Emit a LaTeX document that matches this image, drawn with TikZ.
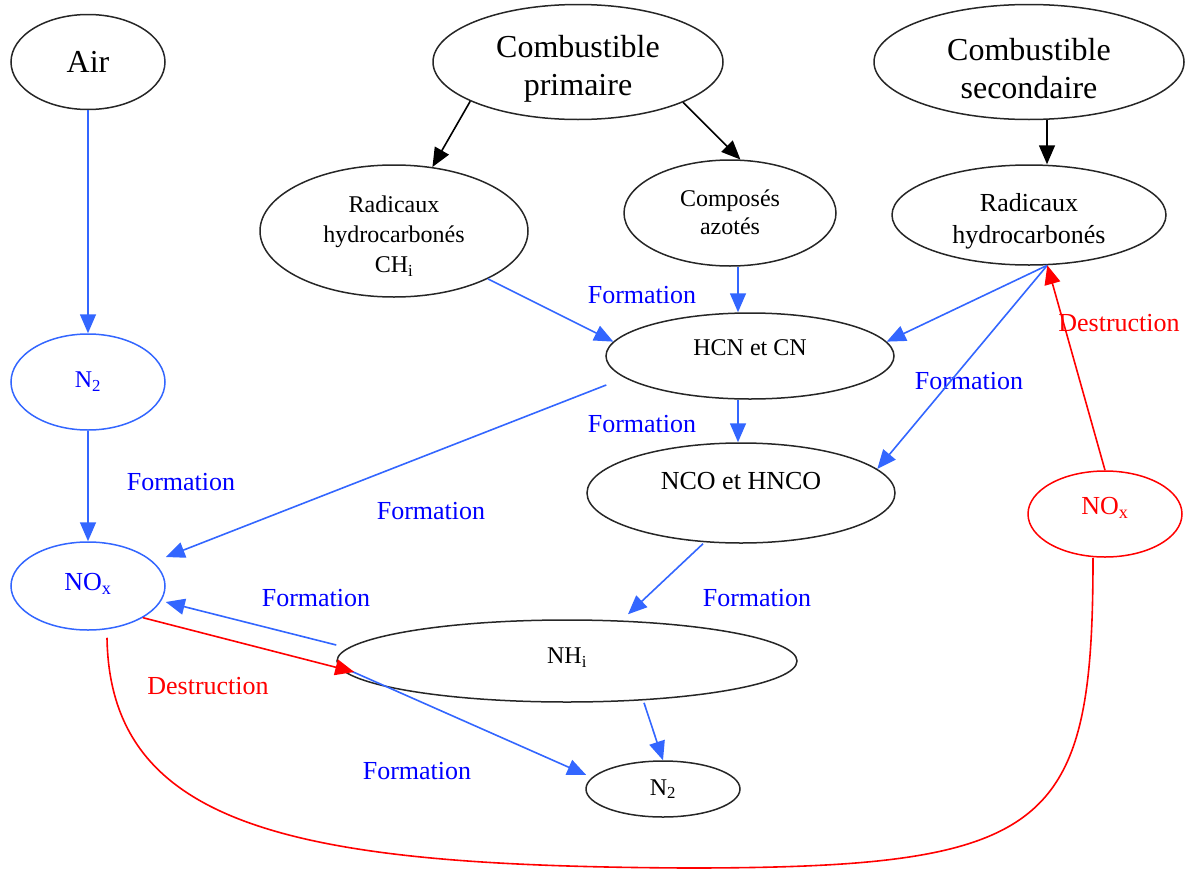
\documentclass[tikz,border=0pt]{standalone}
\usepackage{fontspec}
\setmainfont{Liberation Serif}
\usetikzlibrary{arrows.meta,shapes.geometric,calc}
\definecolor{lblue}{RGB}{51,102,255}
\definecolor{tblue}{RGB}{0,0,255}
\definecolor{myred}{RGB}{255,0,0}
\begin{document}
\begin{tikzpicture}[x=1pt,y=-1pt,
 ell/.style={draw=black!85, line width=1.5pt, ellipse, inner sep=0pt},
 bell/.style={ell, draw=lblue},
 rell/.style={ell, draw=myred},
 txt/.style={inner sep=0pt, align=center, font=\fontsize{24}{28}\selectfont},
 bigtxt/.style={txt, font=\fontsize{32}{38}\selectfont},
 midtxt/.style={txt, font=\fontsize{26}{32}\selectfont},
 lab/.style={inner sep=0pt, font=\fontsize{26}{30}\selectfont, text=tblue},
 dlab/.style={lab, text=myred},
 arr/.style={line width=1.6pt, -{Triangle[length=19pt,width=16pt]}},
 barr/.style={arr, draw=lblue},
 rarr/.style={arr, draw=myred},
]
\useasboundingbox (0,0) rectangle (1191,870);

% ellipses
\node[ell, minimum width=154pt, minimum height=95pt] (air) at (88,62) {};
\node[ell, minimum width=290pt, minimum height=115pt] (cp) at (578,62) {};
\node[ell, minimum width=310pt, minimum height=115pt] (cs) at (1029,62) {};
\node[ell, minimum width=268pt, minimum height=132pt] (radl) at (394,231) {};
\node[ell, minimum width=212pt, minimum height=106pt] (comp) at (730,213) {};
\node[ell, minimum width=274pt, minimum height=100pt] (radr) at (1029,215) {};
\node[bell, minimum width=154pt, minimum height=96pt] (n2l) at (88,382) {};
\node[ell, minimum width=288pt, minimum height=86pt] (hcn) at (750,356) {};
\node[ell, minimum width=308pt, minimum height=100pt] (nco) at (741,493) {};
\node[bell, minimum width=154pt, minimum height=88pt] (noxl) at (88,586) {};
\node[rell, minimum width=154pt, minimum height=86pt] (noxr) at (1105,514) {};
\node[ell, minimum width=460pt, minimum height=82pt] (nhi) at (567,661) {};
\node[ell, minimum width=154pt, minimum height=56pt] (n2b) at (663,789) {};

% texts
\node[bigtxt] (airt) at (88,62) {Air};
\node[bigtxt] (cpt) at (578,69) {Combustible\\primaire};
\node[bigtxt] (cst) at (1029,69) {Combustible\\secondaire};
\node[txt, font=\fontsize{24}{30}\selectfont] (radlt) at (394,236) {Radicaux\\hydrocarbonés\\CH\textsubscript{i}};
\node[txt] (compt) at (730,212) {Composés\\azotés};
\node[midtxt] (radrt) at (1029,221) {Radicaux\\hydrocarbonés};
\node[txt, text=tblue] (n2lt) at (88,382) {N\textsubscript{2}};
\node[txt] (hcnt) at (750,348) {HCN et CN};
\node[midtxt] (ncot) at (741,481) {NCO et HNCO};
\node[midtxt, text=tblue] (noxlt) at (88,584) {NO\textsubscript{x}};
\node[midtxt, text=myred] (noxrt) at (1105,508) {NO\textsubscript{x}};
\node[txt] (nhit) at (567,658) {NH\textsubscript{i}};
\node[txt] (n2bt) at (663,789) {N\textsubscript{2}};

% labels
\node[lab] (l1) at (642,295) {Formation};
\node[lab] (l2) at (642,424) {Formation};
\node[lab] (l3) at (181,482) {Formation};
\node[lab] (l4) at (431,511) {Formation};
\node[lab] (l5) at (969,381) {Formation};
\node[lab] (l6) at (316,598) {Formation};
\node[lab] (l7) at (757,598) {Formation};
\node[lab] (l8) at (417,771) {Formation};
\node[dlab] (d1) at (1119,323) {Destruction};
\node[dlab] (d2) at (208,686) {Destruction};

% connectors
\draw[barr] (air.south) -- (n2l.north);
\draw[barr] (n2l.south) -- (noxl.north);
\draw[arr] (cp.200) -- (radl.59);
\draw[arr] (cp.-21) -- (comp.79);
\draw[arr] ($(cs.south)+(18,0)$) -- ($(radr.north)+(18,0)$);
\draw[barr] (radl.-27) -- (hcn.174);
\draw[barr] ($(comp.south)+(8,0)$) -- ($(hcn.north)+(-12,0)$);
\coordinate (rr) at (radr.-70);
\draw[barr] (rr) -- (hcn.6);
\draw[barr] (rr) -- (nco.10);
\draw[rarr] (noxr.north) -- (rr);
\draw[barr] ($(hcn.south)+(-12,0)$) -- ($(nco.north)+(-3,0)$);
\draw[barr] ($(hcn.west)+(1,29)$) -- ($(noxl.east)+(0,-29)$);
\draw[barr] ($(nco.south)+(-38,0)$) -- ($(nhi.north)+(61,-5)$);
\draw[barr] ($(nhi.west)+(0,-16)$) -- ($(noxl.east)+(0,16)$);
\draw[barr] ($(nhi.west)+(8,7)$) -- ($(n2b.west)+(1,-14)$);
\draw[rarr] (noxl.-30) -- ($(nhi.west)+(18,11)$);
\draw[barr] ($(nhi.south)+(77,0)$) -- (n2b.north);
\coordinate (bot) at (687,868);
\draw[myred, line width=1.6pt] ($(noxl.south)+(19,7)$) .. controls (110,830) and (300,866) .. (bot)
  .. controls (1050,868) and (1093,830) .. ($(noxr.south)+(-12,0)$);
\end{tikzpicture}
\end{document}
